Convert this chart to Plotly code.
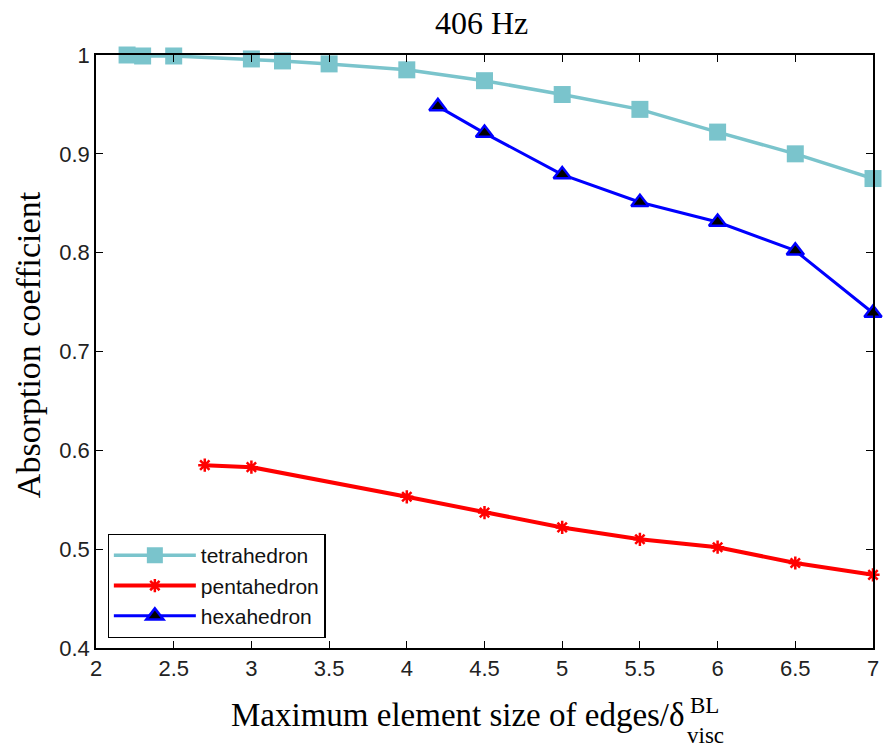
import plotly.graph_objects as go

# ---- data ----
tetra_x = [2.2, 2.3, 2.5, 3, 3.2, 3.5, 4, 4.5, 5, 5.5, 6, 6.5, 7]
tetra_y = [1.0, 0.999, 0.999, 0.996, 0.994, 0.991, 0.985, 0.974, 0.960, 0.945, 0.922, 0.900, 0.875]

penta_x = [2.7, 3, 4, 4.5, 5, 5.5, 6, 6.5, 7]
penta_y = [0.585, 0.583, 0.553, 0.537, 0.522, 0.510, 0.502, 0.486, 0.474]

hexa_x = [4.2, 4.5, 5, 5.5, 6, 6.5, 7]
hexa_y = [0.948, 0.921, 0.879, 0.851, 0.831, 0.802, 0.739]

x_ticks = [2, 2.5, 3, 3.5, 4, 4.5, 5, 5.5, 6, 6.5, 7]
x_tick_labels = ["2", "2.5", "3", "3.5", "4", "4.5", "5", "5.5", "6", "6.5", "7"]
y_ticks = [0.4, 0.5, 0.6, 0.7, 0.8, 0.9, 1.0]
y_tick_labels = ["0.4", "0.5", "0.6", "0.7", "0.8", "0.9", "1"]

title_text = "406 Hz"
y_label = "Absorption coefficient"
x_label_main = "Maximum element size of edges/δ"
x_label_sup = "BL"
x_label_sub = "visc"

SERIF = "Liberation Serif, Times New Roman, serif"
SANS = "Liberation Sans, Arial, sans-serif"

fig = go.Figure()
fig.add_trace(go.Scatter(
    x=tetra_x, y=tetra_y, name="tetrahedron", mode="lines+markers",
    line=dict(color="#7AC4CC", width=3.5),
    marker=dict(symbol="square", size=17, color="#7AC4CC"),
    cliponaxis=False,
))
fig.add_trace(go.Scatter(
    x=penta_x, y=penta_y, name="pentahedron", mode="lines+markers",
    line=dict(color="#FF0000", width=4),
    marker=dict(symbol="asterisk-open", size=11, color="#FF0000",
                line=dict(color="#FF0000", width=2.5)),
    cliponaxis=False,
))
fig.add_trace(go.Scatter(
    x=hexa_x, y=hexa_y, name="hexahedron", mode="lines+markers",
    line=dict(color="#0000FF", width=3),
    marker=dict(symbol="triangle-up", size=15, color="#000000",
                line=dict(color="#0000FF", width=2.5)),
    cliponaxis=False,
))

axis_common = dict(
    showline=True, linecolor="black", linewidth=1.5, mirror="ticks",
    ticks="inside", ticklen=7, tickwidth=1.2, tickcolor="black",
    showgrid=False, zeroline=False,
    tickfont=dict(family=SANS, size=22, color="#222"),
)

fig.update_layout(
    width=889, height=753,
    margin=dict(l=96, r=10, t=55, b=105),
    plot_bgcolor="white", paper_bgcolor="white",
    showlegend=True,
    legend=dict(
        x=0.015, y=0.017, xanchor="left", yanchor="bottom",
        bordercolor="black", borderwidth=1.2, bgcolor="white",
        font=dict(family=SANS, size=21, color="#111"),
        itemwidth=82, tracegroupgap=0,
    ),
    xaxis=dict(range=[2, 7], tickvals=x_ticks, ticktext=x_tick_labels, **axis_common),
    yaxis=dict(range=[0.4, 1.0], tickvals=y_ticks, ticktext=y_tick_labels, **axis_common),
    annotations=[
        dict(text=title_text, xref="paper", yref="paper", x=0.4955, y=1.054,
             xanchor="center", yanchor="middle", showarrow=False,
             font=dict(family=SERIF, size=32, color="black")),
        dict(text=y_label, xref="paper", yref="paper", x=-0.086, y=0.511,
             xanchor="center", yanchor="middle", showarrow=False, textangle=-90,
             font=dict(family=SERIF, size=34, color="black")),
        dict(text=x_label_main, xref="paper", yref="paper", x=0.760, y=-0.113,
             xanchor="right", yanchor="middle", showarrow=False,
             font=dict(family=SERIF, size=33, color="black")),
        dict(text=x_label_sup, xref="paper", yref="paper", x=0.762, y=-0.097,
             xanchor="left", yanchor="middle", showarrow=False,
             font=dict(family=SERIF, size=23, color="black")),
        dict(text=x_label_sub, xref="paper", yref="paper", x=0.758, y=-0.148,
             xanchor="left", yanchor="middle", showarrow=False,
             font=dict(family=SERIF, size=23, color="black")),
    ],
)

fig.write_html("out.html")
